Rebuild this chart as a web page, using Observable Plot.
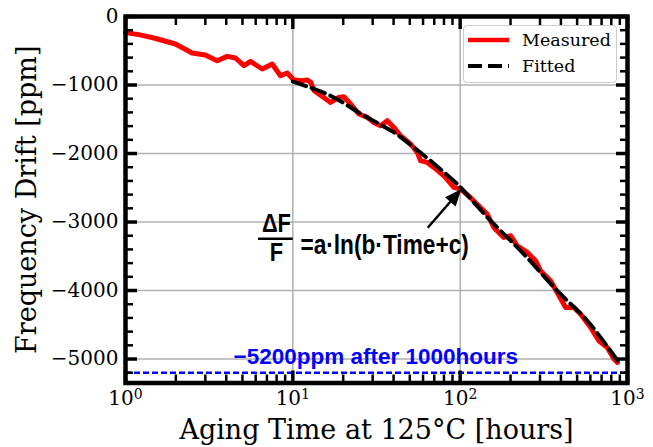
<!DOCTYPE html>
<html><head><meta charset="utf-8">
<script src="https://cdn.jsdelivr.net/npm/d3@7"></script>
<script src="https://cdn.jsdelivr.net/npm/@observablehq/plot@0.6"></script>
<style>
body{margin:0;background:#fff;}
#chart{position:relative;width:653px;height:447px;overflow:hidden;}
.legend{position:absolute;left:463px;top:25px;width:154px;height:58px;border:1px solid #cccccc;border-radius:4px;background:rgba(255,255,255,0.85);box-sizing:border-box;font-family:"DejaVu Serif",serif;font-size:17.5px;color:#000;}
.legend .row{position:absolute;left:4px;height:20px;display:flex;align-items:center;white-space:nowrap;}
.legend svg{margin-right:13px;}
</style></head>
<body><div id="chart"></div>
<script>
// ---- data ----
const measuredHours = [1.0,1.2,1.48,1.99,2.5,3.0,3.53,4.05,4.54,5.1,5.59,6.56,7.53,8.44,9.26,10.1,11.1,12.2,12.8,13.4,15.3,16.8,18.8,20.2,22.1,24.8,27.9,30.5,33.4,36.7,40.2,44.0,50.5,55.4,58.0,63.6,69.6,79.9,91.7,100.5,115,132,145,159,182,200,219,252,282,302,347,380,427,478,524,602,674,757,830,870];
const measuredPpm = [-235,-265,-314,-401,-533,-562,-645,-582,-606,-718,-655,-766,-693,-864,-825,-923,-937,-927,-962,-1083,-1181,-1254,-1181,-1171,-1277,-1423,-1473,-1546,-1594,-1521,-1619,-1740,-1861,-1984,-2105,-2130,-2203,-2324,-2495,-2518,-2641,-2787,-2883,-3079,-3225,-3200,-3346,-3444,-3565,-3711,-3857,-4028,-4247,-4247,-4343,-4539,-4733,-4831,-5000,-5050];
const fittedHours = [10,16.8,26.6,40.2,52.9,66.5,93.9,100.5,152,240,380,575,873];
const fittedPpm = [-950,-1156,-1448,-1692,-1911,-2107,-2422,-2495,-2981,-3467,-4003,-4441,-5025];
const limitPpm = -5200;
const limitText = "\u22125200ppm after 1000hours";
const xMajorTicks = [1,10,100,1000];
const xMinorTicks = [2,3,4,5,6,7,8,9,20,30,40,50,60,70,80,90,200,300,400,500,600,700,800,900];
const yMajorTicks = [0,-1000,-2000,-3000,-4000,-5000];
const yMinorTicks = [-200,-400,-600,-800,-1200,-1400,-1600,-1800,-2200,-2400,-2600,-2800,-3200,-3400,-3600,-3800,-4200,-4400,-4600,-4800,-5200];
const xDomain = [1,1000];
const yDomain = [-5350,0];
const xLabel = "Aging Time at 125°C [hours]";
const yLabel = "Frequency Drift [ppm]";
const seriesNames = ["Measured","Fitted"];
const formulaParts = ["=a·ln(b·Time+c)", "ΔF", "F"];
// annotation (data units)
const formulaAt = {x: 11.1, y: -3463};
const fracBar = {x1: 6.24, x2: 10.06, y: -3244};
const arrowLink = {x1: 64, y1: -3083, x2: 100, y2: -2540};

const measured = measuredHours.map((h,i)=>({h, v: measuredPpm[i]}));
const fitted = fittedHours.map((h,i)=>({h, v: fittedPpm[i]}));

function filledArrow(color, context) {
  const doc = (context && context.document) || document;
  const ns = "http://www.w3.org/2000/svg";
  const m = doc.createElementNS(ns, "marker");
  m.setAttribute("viewBox", "-17 -8 19 16");
  m.setAttribute("markerWidth", "19");
  m.setAttribute("markerHeight", "16");
  m.setAttribute("markerUnits", "userSpaceOnUse");
  m.setAttribute("orient", "auto");
  m.setAttribute("refX", "0");
  m.setAttribute("refY", "0");
  const p = doc.createElementNS(ns, "path");
  p.setAttribute("d", "M-15,-7L2,0L-15,7Z");
  p.setAttribute("fill", "black");
  p.setAttribute("stroke", "none");
  m.appendChild(p);
  return m;
}

const frameTickMajor = {stroke: "black", strokeWidth: 3.5, fill: "none", label: null};
const frameTickMinor = {stroke: "black", strokeWidth: 2.5, fill: "none", label: null};
const formulaFont = {fontFamily: "Liberation Sans, Arial, sans-serif", fontWeight: "bold"};

const chart = Plot.plot({
  width: 653, height: 447,
  marginLeft: 125, marginRight: 26, marginTop: 16, marginBottom: 64.5,
  style: {fontFamily: "DejaVu Serif", fontSize: "20px", background: "white", color: "black"},
  x: {type: "log", domain: xDomain},
  y: {domain: yDomain},
  marks: [
    Plot.gridX(xMajorTicks, {stroke: "#b0b0b0", strokeOpacity: 1, strokeWidth: 1.5}),
    Plot.gridY(yMajorTicks, {stroke: "#b0b0b0", strokeOpacity: 1, strokeWidth: 1.5}),
    Plot.ruleY([limitPpm], {stroke: "#0000ff", strokeWidth: 2.5, strokeDasharray: "6,3"}),
    Plot.text([limitText], {x: 4.42, y: -5069, textAnchor: "start", lineAnchor: "bottom", fill: "#0000ff", fontFamily: "Liberation Sans, Arial, sans-serif", fontWeight: "bold", fontSize: 22.5}),
    Plot.line(measured, {x: "h", y: "v", stroke: "#ff0000", strokeWidth: 5, strokeLinejoin: "round"}),
    Plot.line(fitted, {x: "h", y: "v", stroke: "black", strokeWidth: 4, strokeDasharray: "14,6", curve: "catmull-rom"}),
    // annotation
    Plot.text([formulaParts[0]], {x: formulaAt.x, y: formulaAt.y, textAnchor: "start", lineAnchor: "bottom", fontSize: 27, ...formulaFont}),
    Plot.text([formulaParts[1]], {x: formulaAt.x, y: formulaAt.y, dx: -24, dy: -22, textAnchor: "middle", lineAnchor: "bottom", fontSize: 26, ...formulaFont}),
    Plot.text([formulaParts[2]], {x: formulaAt.x, y: formulaAt.y, dx: -24, dy: 7, textAnchor: "middle", lineAnchor: "bottom", fontSize: 26, ...formulaFont}),
    Plot.ruleY([fracBar], {x1: "x1", x2: "x2", y: "y", stroke: "black", strokeWidth: 2.5}),
    Plot.link([arrowLink], {x1: "x1", y1: "y1", x2: "x2", y2: "y2", stroke: "black", strokeWidth: 2.5, markerEnd: filledArrow}),
    // frame + ticks
    Plot.frame({stroke: "black", strokeWidth: 4.5}),
    Plot.axisX(xMajorTicks, {anchor: "bottom", tickSize: -12, ...frameTickMajor}),
    Plot.axisX(xMinorTicks, {anchor: "bottom", tickSize: -8, ...frameTickMinor}),
    Plot.axisX(xMajorTicks, {anchor: "top", tickSize: -12, ...frameTickMajor}),
    Plot.axisX(xMinorTicks, {anchor: "top", tickSize: -8, ...frameTickMinor}),
    Plot.axisY(yMajorTicks, {anchor: "left", tickSize: -12, ...frameTickMajor}),
    Plot.axisY(yMinorTicks, {anchor: "left", tickSize: -8, ...frameTickMinor}),
    Plot.axisY(yMajorTicks, {anchor: "right", tickSize: -12, ...frameTickMajor}),
    Plot.axisY(yMinorTicks, {anchor: "right", tickSize: -8, ...frameTickMinor}),
    Plot.axisX(xMajorTicks, {anchor: "bottom", tickSize: 0, tickPadding: 8, label: null, fontSize: 20, tickFormat: d => "10^" + Math.round(Math.log10(d))}),
    Plot.axisY(yMajorTicks, {anchor: "left", tickSize: 0, tickPadding: 7, label: null, fontSize: 20, tickFormat: d3.format("d")}),
    Plot.text([xLabel], {frameAnchor: "bottom", dy: 47, fontSize: 27, lineAnchor: "middle", textAnchor: "middle"}),
    Plot.text([yLabel], {frameAnchor: "left", dx: -98, rotate: -90, fontSize: 27, lineAnchor: "middle", textAnchor: "middle"})
  ]
});

// superscript exponents on the x tick labels
d3.select(chart).selectAll('g[aria-label="x-axis tick label"] text').each(function() {
  const t = this.textContent;
  const m = t.match(/^10\^(\d+)$/);
  if (!m) return;
  this.textContent = "10";
  const ts = document.createElementNS("http://www.w3.org/2000/svg", "tspan");
  ts.setAttribute("dy", "-0.42em");
  ts.setAttribute("font-size", "14px");
  ts.textContent = m[1];
  this.appendChild(ts);
});
// condensed look of the formula lettering
d3.select(chart).selectAll("text").each(function() {
  if (!formulaParts.includes(this.textContent)) return;
  let tr = this.getAttribute("transform") || "";
  const x = this.getAttribute("x"), y = this.getAttribute("y");
  if (x != null || y != null) {
    tr += ` translate(${x || 0},${y || 0})`;
    this.removeAttribute("x"); this.removeAttribute("y");
  }
  this.setAttribute("transform", tr + " scale(0.84,1)");
});

const host = document.getElementById("chart");
host.appendChild(chart);

const legend = document.createElement("div");
legend.className = "legend";
legend.innerHTML = `
 <div class="row" style="top:4px"><svg width="41" height="10"><line x1="0" y1="5" x2="41" y2="5" stroke="#ff0000" stroke-width="4.5"/></svg><span>${seriesNames[0]}</span></div>
 <div class="row" style="top:30px"><svg width="41" height="10"><line x1="0" y1="5" x2="41" y2="5" stroke="black" stroke-width="4" stroke-dasharray="14,6"/></svg><span>${seriesNames[1]}</span></div>`;
host.appendChild(legend);
</script>
</body></html>
